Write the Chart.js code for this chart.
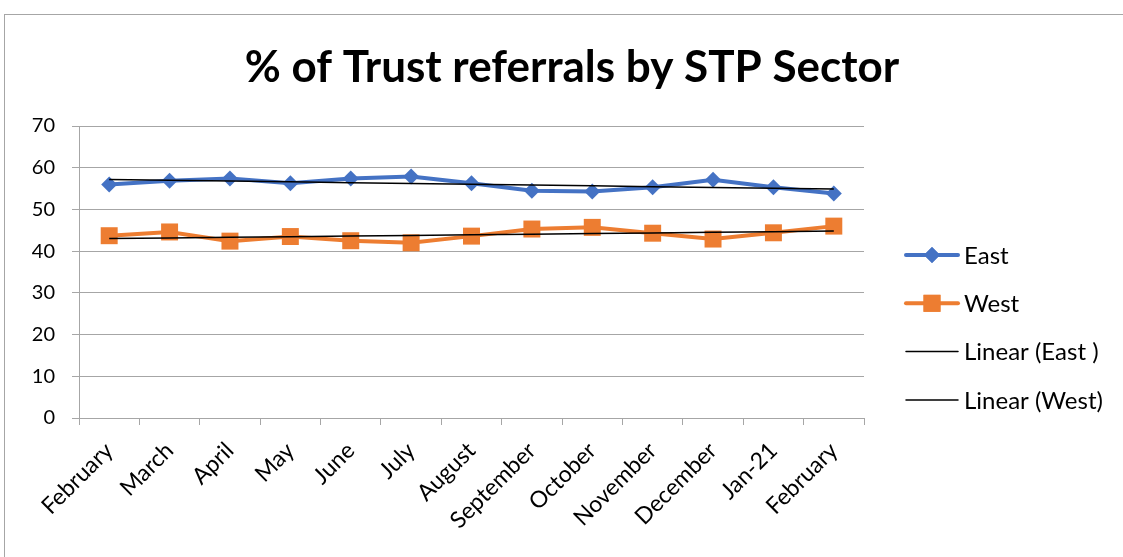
<!DOCTYPE html>
<html>
<head>
<meta charset="utf-8">
<script src="https://cdn.jsdelivr.net/npm/chart.js@4.4.1/dist/chart.umd.min.js"></script>
<style>
  html, body { margin: 0; padding: 0; background: #fff; overflow: hidden; }
  #frame { position: absolute; left: 4px; top: 14px; width: 1200px; height: 600px; border: 1px solid #a6a6a6; }
  #wrap { position: absolute; left: 0; top: 0; width: 1123px; height: 557px; }
</style>
</head>
<body>
<div id="frame"></div>
<div id="wrap"><canvas id="stpChart"></canvas></div>
<script>
// values
var months = ["February", "March", "April", "May", "June", "July", "August",
  "September", "October", "November", "December", "Jan-21", "February"];
var eastValues = [56.0, 56.9, 57.4, 56.3, 57.4, 57.9, 56.3, 54.5, 54.3, 55.3, 57.1, 55.3, 53.8];
var westValues = [43.7, 44.6, 42.4, 43.5, 42.5, 42.0, 43.6, 45.3, 45.7, 44.3, 42.9, 44.4, 46.0];
var yTicks = [0, 10, 20, 30, 40, 50, 60, 70];
var chartTitle = "% of Trust referrals by STP Sector";

var fontFamily = "Lato, 'Open Sans', sans-serif";

// least squares trend, like Excel's "Linear" trendline
function linearTrend(values) {
  var n = values.length, sx = 0, sy = 0, sxy = 0, sxx = 0;
  for (var i = 0; i < n; i++) {
    sx += i; sy += values[i]; sxy += i * values[i]; sxx += i * i;
  }
  var slope = (n * sxy - sx * sy) / (n * sxx - sx * sx);
  var icpt = (sy - slope * sx) / n;
  return values.map(function (v, i) { return icpt + slope * i; });
}

// title centred on the whole canvas (the built-in one centres left of the legend space)
const wideTitle = {
  id: "wideTitle",
  afterDraw(chart) {
    const ctx = chart.ctx;
    ctx.save();
    ctx.fillStyle = "#000";
    ctx.font = "bold 44px " + fontFamily;
    ctx.textAlign = "center";
    ctx.textBaseline = "alphabetic";
    ctx.fillText(chartTitle, 572, 82);
    ctx.restore();
  }
};

// legend drawn by hand so it shows line + marker like Excel
const sideLegend = {
  id: "sideLegend",
  afterDraw(chart) {
    const ctx = chart.ctx;
    const items = chart.data.datasets;
    ctx.save();
    items.forEach(function (ds, i) {
      const y = 255 + i * 48.3;
      ctx.strokeStyle = ds.borderColor;
      ctx.lineWidth = ds.legendLineWidth;
      ctx.lineCap = "round";
      ctx.beginPath();
      ctx.moveTo(906, y);
      ctx.lineTo(958, y);
      ctx.stroke();
      if (ds.pointRadius > 0) {
        ctx.fillStyle = ds.backgroundColor;
        Chart.helpers.drawPoint(ctx, {
          pointStyle: ds.pointStyle,
          radius: ds.legendRadius,
          borderWidth: 0
        }, 932, y);
        ctx.fill();
      }
      ctx.fillStyle = "#000";
      ctx.font = "24px " + fontFamily;
      ctx.textBaseline = "middle";
      ctx.textAlign = "left";
      ctx.fillText(ds.label, 964, y + 1);
    });
    ctx.restore();
  }
};

var chartConfig = {
  type: "line",
  data: {
    labels: months,
    datasets: [
      {
        label: "East",
        data: eastValues,
        borderColor: "#4472C4",
        backgroundColor: "#4472C4",
        borderWidth: 4,
        pointStyle: "rectRot",
        pointRadius: 8,
        pointHoverRadius: 8,
        pointBorderWidth: 0,
        legendLineWidth: 4,
        legendRadius: 8,
        order: 2
      },
      {
        label: "West",
        data: westValues,
        borderColor: "#ED7D31",
        backgroundColor: "#ED7D31",
        borderWidth: 4,
        pointStyle: "rect",
        pointRadius: 12,
        pointHoverRadius: 12,
        pointBorderWidth: 0,
        legendLineWidth: 4,
        legendRadius: 12,
        order: 2
      },
      {
        label: "Linear (East )",
        data: linearTrend(eastValues),
        borderColor: "#000",
        backgroundColor: "#000",
        borderWidth: 1.5,
        pointRadius: 0,
        legendLineWidth: 1.5,
        order: 1
      },
      {
        label: "Linear (West)",
        data: linearTrend(westValues),
        borderColor: "#000",
        backgroundColor: "#000",
        borderWidth: 1.5,
        pointRadius: 0,
        legendLineWidth: 1.5,
        order: 1
      }
    ]
  },
  options: {
    responsive: false,
    animation: false,
    layout: { padding: { left: 0, right: 250, top: 126, bottom: 0 } },
    plugins: {
      legend: { display: false },
      tooltip: { enabled: false },
      title: { display: false }
    },
    scales: {
      x: {
        offset: true,
        grid: {
          offset: true,
          drawOnChartArea: false,
          drawTicks: true,
          tickLength: 7,
          color: "#a6a6a6"
        },
        border: { color: "#a6a6a6", width: 1 },
        ticks: {
          color: "#000",
          font: { family: fontFamily, size: 23 },
          minRotation: 45,
          maxRotation: 45,
          autoSkip: false,
          padding: 12
        },
        afterFit(scale) { scale.height = 139; }
      },
      y: {
        min: 0,
        max: 70,
        afterBuildTicks(scale) {
          scale.ticks = yTicks.map(function (v) { return { value: v }; });
        },
        grid: {
          color: "#a6a6a6",
          tickLength: 7,
          drawTicks: true
        },
        border: { color: "#a6a6a6", width: 1 },
        ticks: {
          color: "#000",
          font: { family: fontFamily, size: 20 },
          padding: 17
        },
        afterFit(scale) { scale.width = 79; }
      }
    }
  },
  plugins: [wideTitle, sideLegend]
};

var stpChart = new Chart(document.getElementById("stpChart"), chartConfig);
stpChart.resize(1123, 557);
</script>
</body>
</html>
